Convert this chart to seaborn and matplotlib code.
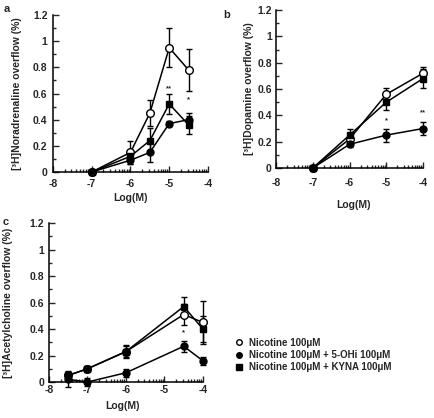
import numpy as np
import matplotlib
matplotlib.use("Agg")
import matplotlib.pyplot as plt
from matplotlib.lines import Line2D
from matplotlib.ticker import FixedLocator
import seaborn as sns

# panel a: noradrenaline
x_a = [-7, -6, -5.5, -5, -4.5]
nic_a = [0.0, 0.15, 0.45, 0.95, 0.78]
nic_a_err = [0.0, 0.09, 0.10, 0.15, 0.16]
ohi_a = [0.0, 0.09, 0.15, 0.37, 0.40]
ohi_a_err = [0.0, 0.03, 0.07, 0.02, 0.05]
kyna_a = [0.0, 0.12, 0.24, 0.52, 0.36]
kyna_a_err = [0.0, 0.04, 0.10, 0.08, 0.07]

# panel b: dopamine
x_b = [-7, -6, -5, -4]
nic_b = [0.0, 0.22, 0.56, 0.72]
nic_b_err = [0.0, 0.03, 0.05, 0.05]
ohi_b = [0.0, 0.18, 0.25, 0.30]
ohi_b_err = [0.0, 0.02, 0.05, 0.05]
kyna_b = [0.0, 0.25, 0.50, 0.68]
kyna_b_err = [0.0, 0.05, 0.06, 0.07]

# panel c: acetylcholine
x_c = [-7.5, -7, -6, -4.5, -4]
nic_c = [0.05, 0.10, 0.23, 0.51, 0.45]
nic_c_err = [0.02, 0.02, 0.04, 0.08, 0.16]
ohi_c = [0.02, 0.0, 0.07, 0.27, 0.16]
ohi_c_err = [0.06, 0.03, 0.03, 0.04, 0.03]
kyna_c = [0.05, 0.10, 0.23, 0.57, 0.40]
kyna_c_err = [0.02, 0.02, 0.05, 0.07, 0.10]

labels = ["Nicotine 100\u03bcM",
          "Nicotine 100\u03bcM + 5-OHi 100\u03bcM",
          "Nicotine 100\u03bcM + KYNA 100\u03bcM"]
ylabels = ["[\u00b3H]Noradrenaline overflow (%)",
           "[\u00b3H]Dopamine overflow (%)",
           "[\u00b3H]Acetylcholine overflow (%)"]
stars_a = [(-5, 0.64, "**"), (-4.5, 0.55, "*")]
stars_b = [(-5, 0.36, "*"), (-4, 0.42, "**")]
stars_c = [(-4.5, 0.37, "*")]

sns.set_style("ticks")
plt.rcParams['font.family'] = ['Liberation Sans', 'DejaVu Sans']
plt.rcParams['font.weight'] = 'bold'
plt.rcParams['axes.labelweight'] = 'bold'

fig = plt.figure(figsize=(4.35, 4.18), dpi=100)
ax_a = fig.add_axes([0.1218, 0.5885, 0.3563, 0.3756])
ax_b = fig.add_axes([0.6345, 0.598, 0.338, 0.378])
ax_c = fig.add_axes([0.1126, 0.0861, 0.354, 0.380])

styles = [dict(marker='o', mfc='white', ms=5.5),
          dict(marker='o', mfc='black', ms=5),
          dict(marker='s', mfc='black', ms=5)]

panels = [
    (ax_a, x_a, [(nic_a, nic_a_err), (ohi_a, ohi_a_err), (kyna_a, kyna_a_err)], ylabels[0], stars_a,
     5, 4, (0.5, -0.134), (-0.2, 0.5)),
    (ax_b, x_b, [(nic_b, nic_b_err), (ohi_b, ohi_b_err), (kyna_b, kyna_b_err)], ylabels[1], stars_b,
     7, 3, (0.53, -0.203), (-0.148, 0.5)),
    (ax_c, x_c, [(nic_c, nic_c_err), (ohi_c, ohi_c_err), (kyna_c, kyna_c_err)], ylabels[2], stars_c,
     2.5, 3.5, (0.48, -0.12), (-0.234, 0.5)),
]

minor_x = [n + np.log10(k) for n in range(-8, -4) for k in range(2, 10)]

for ax, xs, series, ylab, stars, xpad, ypad, xl_pos, yl_pos in panels:
    for (ys, errs), st in zip(series, styles):
        ax.errorbar(xs, ys, yerr=errs, fmt='none', ecolor='black',
                    elinewidth=1, capsize=2.5, capthick=1, zorder=2)
        sns.lineplot(x=xs, y=ys, ax=ax, color='black', linewidth=1.1,
                     marker=st['marker'], markerfacecolor=st['mfc'],
                     markeredgecolor='black', markeredgewidth=1,
                     markersize=st['ms'], zorder=3)
    for sx, sy, s in stars:
        ax.text(sx, sy, s, ha='center', va='center', fontsize=5.5)
    ax.set_xlim(-8, -4)
    ax.set_ylim(0, 1.2)
    ax.set_xticks([-8, -7, -6, -5, -4])
    ax.set_xticklabels(['-8', '-7', '-6', '-5', '-4'])
    ax.xaxis.set_minor_locator(FixedLocator(minor_x))
    ax.set_yticks([0, 0.2, 0.4, 0.6, 0.8, 1.0, 1.2])
    ax.set_yticklabels(['0', '0.2', '0.4', '0.6', '0.8', '1', '1.2'])
    ax.yaxis.set_minor_locator(FixedLocator([0.1, 0.3, 0.5, 0.7, 0.9, 1.1]))
    ax.tick_params(which='both', direction='in', width=1, labelsize=7.5)
    ax.tick_params(which='major', length=4)
    ax.tick_params(which='minor', length=2.5)
    ax.tick_params(axis='x', which='major', pad=xpad)
    ax.tick_params(axis='y', which='major', pad=ypad)
    ax.set_xlabel('Log(M)', fontsize=7.5)
    ax.set_ylabel(ylab, fontsize=7.5)
    ax.xaxis.set_label_coords(*xl_pos)
    ax.yaxis.set_label_coords(*yl_pos)
    for sp in ['top', 'right']:
        ax.spines[sp].set_visible(False)
    for sp in ['left', 'bottom']:
        ax.spines[sp].set_linewidth(1.1)
        ax.spines[sp].set_color('black')
    for art in ax.get_children():
        try:
            art.set_clip_on(False)
        except Exception:
            pass

fig.text(4 / 435, 1 - 9 / 418, 'a', fontsize=8, fontweight='bold', va='center')
fig.text(223 / 435, 1 - 15 / 418, 'b', fontsize=8, fontweight='bold', va='center')
fig.text(3 / 435, 1 - 222 / 418, 'c', fontsize=8, fontweight='bold', va='center')

handles = [Line2D([], [], ls='none', marker=st['marker'], mfc=st['mfc'],
                  mec='black', mew=1, ms=4) for st in styles]
fig.legend(handles, labels, loc='center left',
           bbox_to_anchor=(230 / 435, 1 - 355 / 418), frameon=False,
           handlelength=0.8, handletextpad=0.7, labelspacing=0.25,
           borderpad=0, prop={'size': 7, 'weight': 'bold'})

fig.savefig('out.png', dpi=100)
